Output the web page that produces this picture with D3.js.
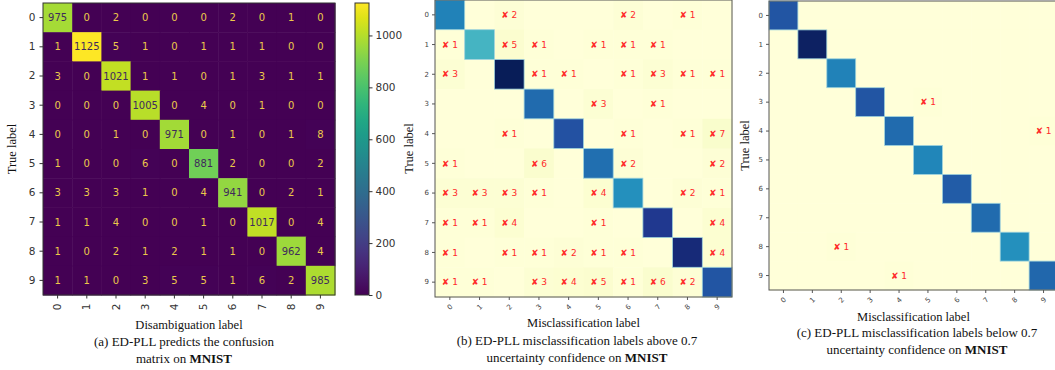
<!DOCTYPE html>
<html>
<head>
<meta charset="utf-8">
<script src="https://cdn.jsdelivr.net/npm/d3@7"></script>
<style>
  body { margin: 0; background: #fff; }
  svg { display: block; }
  .serif { font-family: "Liberation Serif", "Times New Roman", serif; fill: #111; }
  .tick text { font-family: "DejaVu Sans", sans-serif; }
</style>
</head>
<body>
<svg id="chart" width="1055" height="370"></svg>
<script>
// ---------------------------------------------------------------------------
// Data

const labels = ['0', '1', '2', '3', '4', '5', '6', '7', '8', '9'];

// (a) confusion matrix, rows = true label, cols = disambiguation label
const confusion = [
  [975, 0, 2, 0, 0, 0, 2, 0, 1, 0],
  [1, 1125, 5, 1, 0, 1, 1, 1, 0, 0],
  [3, 0, 1021, 1, 1, 0, 1, 3, 1, 1],
  [0, 0, 0, 1005, 0, 4, 0, 1, 0, 0],
  [0, 0, 1, 0, 971, 0, 1, 0, 1, 8],
  [1, 0, 0, 6, 0, 881, 2, 0, 0, 2],
  [3, 3, 3, 1, 0, 4, 941, 0, 2, 1],
  [1, 1, 4, 0, 0, 1, 0, 1017, 0, 4],
  [1, 0, 2, 1, 2, 1, 1, 0, 962, 4],
  [1, 1, 0, 3, 5, 5, 1, 6, 2, 985]
];
const colorbarTicks = [0, 200, 400, 600, 800, 1000];

// (b) above 0.7 confidence: diagonal intensity (0..1) and misclassified counts
const diagAbove = [0.66, 0.50, 1.00, 0.72, 0.79, 0.71, 0.62, 0.87, 0.93, 0.78];
const missAbove = [
  [0, 0, 2, 0, 0, 0, 2, 0, 1, 0],
  [1, 0, 5, 1, 0, 1, 1, 1, 0, 0],
  [3, 0, 0, 1, 1, 0, 1, 3, 1, 1],
  [0, 0, 0, 0, 0, 3, 0, 1, 0, 0],
  [0, 0, 1, 0, 0, 0, 1, 0, 1, 7],
  [1, 0, 0, 6, 0, 0, 2, 0, 0, 2],
  [3, 3, 3, 1, 0, 4, 0, 0, 2, 1],
  [1, 1, 4, 0, 0, 1, 0, 0, 0, 4],
  [1, 0, 1, 1, 2, 1, 1, 0, 0, 4],
  [1, 1, 0, 3, 4, 5, 1, 6, 2, 0]
];

// (c) below 0.7 confidence
const diagBelow = [0.78, 0.98, 0.66, 0.78, 0.72, 0.65, 0.76, 0.72, 0.62, 0.73];
const missBelow = [
  [0, 0, 0, 0, 0, 0, 0, 0, 0, 0],
  [0, 0, 0, 0, 0, 0, 0, 0, 0, 0],
  [0, 0, 0, 0, 0, 0, 0, 0, 0, 0],
  [0, 0, 0, 0, 0, 1, 0, 0, 0, 0],
  [0, 0, 0, 0, 0, 0, 0, 0, 0, 1],
  [0, 0, 0, 0, 0, 0, 0, 0, 0, 0],
  [0, 0, 0, 0, 0, 0, 0, 0, 0, 0],
  [0, 0, 0, 0, 0, 0, 0, 0, 0, 0],
  [0, 0, 1, 0, 0, 0, 0, 0, 0, 0],
  [0, 0, 0, 0, 1, 0, 0, 0, 0, 0]
];

// ---------------------------------------------------------------------------
// Helpers

const svg = d3.select('#chart');

function flatten(matrix) {
  const cells = [];
  matrix.forEach((row, i) => row.forEach((v, j) => cells.push({row: i, col: j, value: v})));
  return cells;
}

function caption(x, y, lines) {
  lines.forEach((parts, k) => {
    const t = svg.append('text')
      .attr('class', 'serif')
      .attr('x', x)
      .attr('y', y + k * 17)
      .attr('text-anchor', 'middle')
      .style('font-size', '13px');
    parts.forEach((p) => {
      t.append('tspan').text(p.text).style('font-weight', p.bold ? 'bold' : 'normal');
    });
  });
}

function axisTitles(g, size, xTitle, yTitle, xTitleY, yTitleX) {
  g.append('text')
    .attr('class', 'serif')
    .attr('x', size / 2)
    .attr('y', xTitleY)
    .attr('text-anchor', 'middle')
    .style('font-size', '12.5px')
    .text(xTitle);
  g.append('text')
    .attr('class', 'serif')
    .attr('transform', `translate(${yTitleX},${size / 2}) rotate(-90)`)
    .attr('text-anchor', 'middle')
    .style('font-size', '12.5px')
    .text(yTitle);
}

// ---------------------------------------------------------------------------
// (a) confusion matrix with viridis colour bar

(function drawConfusion() {
  const x0 = 43, y0 = 3, size = 292;
  const g = svg.append('g').attr('transform', `translate(${x0},${y0})`);
  const x = d3.scaleBand().domain(labels).range([0, size]);
  const y = d3.scaleBand().domain(labels).range([0, size]);
  const vmax = d3.max(confusion.flat());
  const color = d3.scaleSequential(d3.interpolateViridis).domain([0, vmax]);

  g.selectAll('rect.cell')
    .data(flatten(confusion))
    .enter()
    .append('rect')
    .attr('class', 'cell')
    .attr('x', (d) => x(labels[d.col]))
    .attr('y', (d) => y(labels[d.row]))
    .attr('width', x.bandwidth() + 0.5)
    .attr('height', y.bandwidth() + 0.5)
    .attr('fill', (d) => color(d.value));

  g.selectAll('text.val')
    .data(flatten(confusion))
    .enter()
    .append('text')
    .attr('class', 'val')
    .attr('x', (d) => x(labels[d.col]) + x.bandwidth() / 2)
    .attr('y', (d) => y(labels[d.row]) + y.bandwidth() / 2)
    .attr('text-anchor', 'middle')
    .attr('dy', '0.36em')
    .style('font-family', '"DejaVu Sans", sans-serif')
    .style('font-size', '10px')
    .attr('fill', (d) => (d.value > vmax / 2 ? '#3f2a5c' : '#ecc94a'))
    .text((d) => d.value);

  g.append('rect')
    .attr('width', size).attr('height', size)
    .attr('fill', 'none').attr('stroke', '#333').attr('stroke-width', 1);

  const yAxis = g.append('g').call(d3.axisLeft(y).tickSize(3.5).tickSizeOuter(0));
  yAxis.select('.domain').remove();
  yAxis.selectAll('text').style('font-size', '10.5px').attr('fill', '#333').attr('dx', '-1');
  yAxis.selectAll('line').attr('stroke', '#333');

  const xAxis = g.append('g')
    .attr('transform', `translate(0,${size})`)
    .call(d3.axisBottom(x).tickSize(3.5).tickSizeOuter(0));
  xAxis.select('.domain').remove();
  xAxis.selectAll('line').attr('stroke', '#333');
  xAxis.selectAll('text')
    .style('font-size', '10.5px')
    .attr('fill', '#333')
    .attr('text-anchor', 'middle')
    .attr('transform', 'translate(0,12) rotate(-90)')
    .attr('x', 0).attr('y', 0).attr('dy', '0.35em');

  axisTitles(g, size, 'Disambiguation label', 'True label', 326, -27);

  // colour bar
  const cbX = 355, cbW = 14;
  const cbScale = d3.scaleLinear().domain([0, vmax]).range([y0 + size, y0]);
  const defs = svg.append('defs');
  const grad = defs.append('linearGradient')
    .attr('id', 'viridis-grad')
    .attr('x1', 0).attr('y1', 1).attr('x2', 0).attr('y2', 0);
  d3.range(0, 1.0001, 0.05).forEach((t) => {
    grad.append('stop').attr('offset', t).attr('stop-color', d3.interpolateViridis(t));
  });
  svg.append('rect')
    .attr('x', cbX).attr('y', y0)
    .attr('width', cbW).attr('height', size)
    .attr('fill', 'url(#viridis-grad)')
    .attr('stroke', '#333').attr('stroke-width', 1);
  const cbAxis = svg.append('g')
    .attr('transform', `translate(${cbX + cbW},0)`)
    .call(d3.axisRight(cbScale).tickValues(colorbarTicks).tickFormat(d3.format('d'))
      .tickSize(3.5).tickSizeOuter(0));
  cbAxis.select('.domain').remove();
  cbAxis.selectAll('line').attr('stroke', '#333');
  cbAxis.selectAll('text').style('font-size', '10.5px').attr('fill', '#333');

  caption(184, 346, [
    [{text: '(a) ED-PLL predicts the confusion'}],
    [{text: 'matrix on '}, {text: 'MNIST', bold: true}]
  ]);
})();

// ---------------------------------------------------------------------------
// (b) and (c) misclassification maps (YlGnBu)

function drawMisclass(opts) {
  const {x0, y0, size, diag, miss} = opts;
  const g = svg.append('g').attr('transform', `translate(${x0},${y0})`);
  const x = d3.scaleBand().domain(labels).range([0, size]);
  const y = d3.scaleBand().domain(labels).range([0, size]);
  const color = d3.scaleSequential(d3.interpolateYlGnBu).domain([0, 1]);

  const cells = flatten(miss).map((d) => {
    d.diag = d.row === d.col;
    return d;
  });

  g.selectAll('rect.bg')
    .data(cells)
    .enter()
    .append('rect')
    .attr('class', 'bg')
    .attr('x', (d) => x(labels[d.col]))
    .attr('y', (d) => y(labels[d.row]))
    .attr('width', x.bandwidth() + 0.5)
    .attr('height', y.bandwidth() + 0.5)
    .attr('fill', (d) => color(d.value * 0.006));

  g.selectAll('rect.diag')
    .data(diag)
    .enter()
    .append('rect')
    .attr('class', 'diag')
    .attr('x', (d, i) => x(labels[i]))
    .attr('y', (d, i) => y(labels[i]))
    .attr('width', x.bandwidth())
    .attr('height', y.bandwidth())
    .attr('fill', (d) => color(d))
    .attr('stroke', '#9fd3dc')
    .attr('stroke-width', 0.8);

  g.selectAll('text.miss')
    .data(cells.filter((d) => !d.diag && d.value > 0))
    .enter()
    .append('text')
    .attr('class', 'miss')
    .attr('x', (d) => x(labels[d.col]) + x.bandwidth() / 2)
    .attr('y', (d) => y(labels[d.row]) + y.bandwidth() / 2)
    .attr('text-anchor', 'middle')
    .attr('dy', '0.36em')
    .style('font-family', '"DejaVu Sans", sans-serif')
    .style('font-size', '9px')
    .attr('fill', '#ff2a2a')
    .text((d) => `\u2718 ${d.value}`);

  g.append('rect')
    .attr('width', size).attr('height', size)
    .attr('fill', 'none').attr('stroke', '#555').attr('stroke-width', 1);

  const yAxis = g.append('g').call(d3.axisLeft(y).tickSize(3).tickSizeOuter(0));
  yAxis.select('.domain').remove();
  yAxis.selectAll('line').attr('stroke', '#555');
  yAxis.selectAll('text').style('font-size', '7px').attr('fill', '#444');

  const xAxis = g.append('g')
    .attr('transform', `translate(0,${size})`)
    .call(d3.axisBottom(x).tickSize(3).tickSizeOuter(0));
  xAxis.select('.domain').remove();
  xAxis.selectAll('line').attr('stroke', '#555');
  xAxis.selectAll('text')
    .style('font-size', '7px')
    .attr('fill', '#444')
    .attr('text-anchor', 'middle')
    .attr('x', 0).attr('y', 0).attr('dy', '0.35em')
    .attr('transform', 'translate(0,10) rotate(-45)');

  axisTitles(g, size, 'Misclassification label', 'True label', opts.xTitleY, opts.yTitleX);
  caption(opts.capX, opts.capY, opts.caption);
}

drawMisclass({
  x0: 435, y0: 0, size: 297,
  diag: diagAbove, miss: missAbove,
  xTitleY: 327, yTitleX: -22,
  capX: 577, capY: 345,
  caption: [
    [{text: '(b) ED-PLL misclassification labels above 0.7'}],
    [{text: 'uncertainty confidence on '}, {text: 'MNIST', bold: true}]
  ]
});

drawMisclass({
  x0: 769, y0: 1, size: 289,
  diag: diagBelow, miss: missBelow,
  xTitleY: 320, yTitleX: -20,
  capX: 917, capY: 337,
  caption: [
    [{text: '(c) ED-PLL misclassification labels below 0.7'}],
    [{text: 'uncertainty confidence on '}, {text: 'MNIST', bold: true}]
  ]
});
</script>
</body>
</html>
